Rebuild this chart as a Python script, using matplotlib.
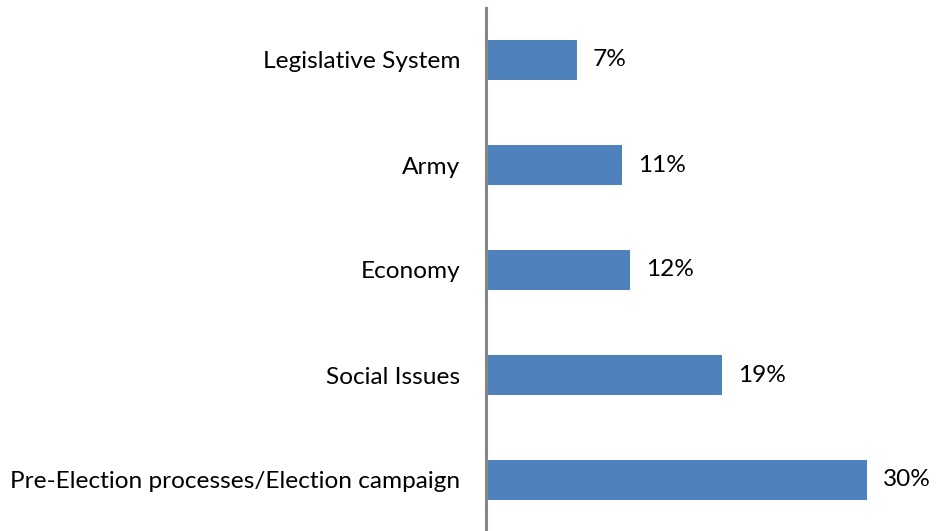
import matplotlib
matplotlib.use("Agg")
import matplotlib.pyplot as plt

# data, bottom-to-top order as drawn
categories = ["Pre-Election processes/Election campaign", "Social Issues",
              "Economy", "Army", "Legislative System"]
shares = [29.9, 18.5, 11.3, 10.7, 7.1]
value_labels = ["30%", "19%", "12%", "11%", "7%"]

plt.rcParams['font.family'] = ['Lato', 'DejaVu Sans']

fig = plt.figure(figsize=(9.36, 5.31), dpi=100)
ax = fig.add_axes([486 / 936, -1.5 / 531, 443 / 936, 525 / 531])

ax.barh(range(len(categories)), shares, height=0.39, color="#4F81BD")
for i, (v, lab) in enumerate(zip(shares, value_labels)):
    ax.text(v + 1.25, i, lab, va="center", ha="left", fontsize=17.6, color="black")

ax.set_xlim(0, 34.75)
ax.set_ylim(-0.5, len(categories) - 0.5)
ax.set_yticks(range(len(categories)))
ax.set_yticklabels(categories, fontsize=17.6)
ax.tick_params(axis="y", length=0, pad=18.5)
ax.set_xticks([])
for side in ["top", "right", "bottom"]:
    ax.spines[side].set_visible(False)
ax.spines["left"].set_color("#868686")
ax.spines["left"].set_linewidth(2.2)

fig.savefig("out.png", dpi=100)
